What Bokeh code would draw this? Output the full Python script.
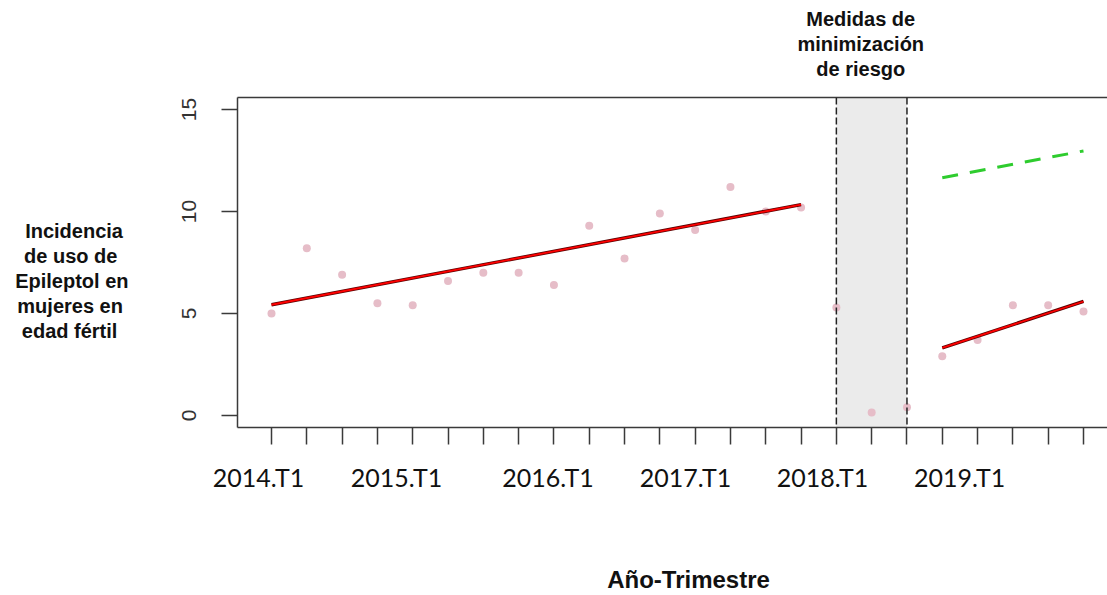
from bokeh.plotting import figure
from bokeh.models import (Range1d, FixedTicker, LinearAxis, BoxAnnotation, Span)
from bokeh.embed import file_html
from bokeh.resources import INLINE

# ---------------- data ----------------
quarters = ["2014.T1", "2014.T2", "2014.T3", "2014.T4",
            "2015.T1", "2015.T2", "2015.T3", "2015.T4",
            "2016.T1", "2016.T2", "2016.T3", "2016.T4",
            "2017.T1", "2017.T2", "2017.T3", "2017.T4",
            "2018.T1", "2018.T2", "2018.T3", "2018.T4",
            "2019.T1", "2019.T2", "2019.T3", "2019.T4"]
incidence = [5.0, 8.2, 6.9, 5.5, 5.4, 6.6, 7.0, 7.0,
             6.4, 9.3, 7.7, 9.9, 9.1, 11.2, 10.0, 10.2,
             5.3, 0.15, 0.4, 2.9, 3.7, 5.4, 5.4, 5.1]
# fitted segments (start / end quarter index and value)
pre_fit_x = [0, 15]
pre_fit_y = [5.43, 10.34]
post_fit_x = [19, 23]
post_fit_y = [3.32, 5.59]
counterfactual_x = [19, 23]
counterfactual_y = [11.66, 12.97]
intervention_start = "2018.T1"
intervention_end = "2018.T3"
labelled_quarters = ["2014.T1", "2015.T1", "2016.T1", "2017.T1", "2018.T1", "2019.T1"]
y_ticks = [0, 5, 10, 15]
title_lines = ["Medidas de", "minimización", "de riesgo"]
ylab_lines = ["Incidencia", "de uso de", "Epileptol en", "mujeres en", "edad fértil"]
xlab_text = "Año-Trimestre"

idx = list(range(len(quarters)))

p = figure(width=1107, height=595, output_backend="svg", toolbar_location=None,
           x_range=Range1d(-0.963, 23.68), y_range=Range1d(-0.588, 15.59),
           x_axis_location=None, y_axis_location=None,
           min_border_left=237, min_border_right=0, min_border_top=97,
           min_border_bottom=168)
p.outline_line_color = None
p.xgrid.visible = False
p.ygrid.visible = False
p.background_fill_color = "white"
p.border_fill_color = "white"

axis_col = "#3a3a3a"
text_col = "#111111"


def text_axis(ticks, labels, standoff, font, size, style="normal", color=text_col):
    ax = LinearAxis(ticker=FixedTicker(ticks=ticks),
                    major_label_overrides={t: l for t, l in zip(ticks, labels)})
    ax.axis_line_color = None
    ax.major_tick_line_color = None
    ax.major_tick_out = 0
    ax.major_tick_in = 0
    ax.minor_tick_line_color = None
    ax.major_label_standoff = standoff
    ax.major_label_text_font = font
    ax.major_label_text_font_size = size
    ax.major_label_text_font_style = style
    ax.major_label_text_color = color
    return ax


# ---- left: y axis + multi-line label ----
yax = LinearAxis(ticker=FixedTicker(ticks=y_ticks))
yax.axis_line_color = axis_col
yax.axis_line_width = 1.5
yax.major_tick_line_color = axis_col
yax.major_tick_line_width = 1.5
yax.major_tick_out = 16
yax.major_tick_in = 0
yax.minor_tick_line_color = None
yax.major_label_orientation = "vertical"
yax.major_label_text_font = "Liberation Sans"
yax.major_label_text_font_size = "21px"
yax.major_label_text_color = "#333333"
yax.major_label_standoff = 25
p.add_layout(yax, "left")

nb = "\u00a0"
ylab_pad = [1, 2, 0, 1, 2]
ylab_pos = [9.069, 7.843, 6.618, 5.392, 4.167]
p.add_layout(text_axis(ylab_pos, [t + nb * k for t, k in zip(ylab_lines, ylab_pad)], 51,
                       "Liberation Sans", "20px", "bold"), "left")

# ---- bottom: quarter ticks, labels, title ----
xax = LinearAxis(ticker=FixedTicker(ticks=idx))
xax.axis_line_color = axis_col
xax.axis_line_width = 1.5
xax.major_tick_line_color = axis_col
xax.major_tick_line_width = 1.5
xax.major_tick_out = 17
xax.major_tick_in = 0
xax.minor_tick_line_color = None
xax.major_label_text_font_size = "0px"
xax.major_label_text_alpha = 0
xax.major_label_standoff = 0
p.add_layout(xax, "below")

tick_nudge = [-0.368, -0.459, -0.167, -0.272, -0.391, -0.51]
qpos = [quarters.index(l) + d for l, d in zip(labelled_quarters, tick_nudge)]
p.add_layout(text_axis(qpos, labelled_quarters, 17, "Lato", "25px"), "below")
p.add_layout(text_axis([11.813], [xlab_text], 71, "Liberation Sans", "24px", "bold"), "below")

# ---- top: frame line + intervention title ----
tax = LinearAxis(ticker=FixedTicker(ticks=[]))
tax.axis_line_color = axis_col
tax.axis_line_width = 1.5
tax.major_tick_line_color = None
tax.minor_tick_line_color = None
tax.major_label_text_font_size = "0px"
tax.major_label_standoff = 0
p.add_layout(tax, "above")

title_x = 16.69
title_standoff = [18, 0, 0]
for t, s in zip(reversed(title_lines), title_standoff):
    p.add_layout(text_axis([title_x], [t], s, "Liberation Sans", "20px", "bold"), "above")

# ---- plot content ----
i0 = quarters.index(intervention_start)
i1 = quarters.index(intervention_end)
p.add_layout(BoxAnnotation(left=i0, right=i1, fill_color="#EBEBEB", fill_alpha=1.0,
                           line_color=None, level="underlay"))
for loc in (i0, i1):
    p.add_layout(Span(location=loc, dimension="height", line_color="#222222",
                      line_width=1.5, line_dash="7 3"))

p.scatter(idx, incidence, size=8, color="#E6BDC8", line_color=None)

for xs, ys in ((pre_fit_x, pre_fit_y), (post_fit_x, post_fit_y)):
    p.line(xs, ys, line_color="#5a0000", line_width=3.4)
    p.line(xs, ys, line_color="#FF0000", line_width=1.8)

p.line(counterfactual_x, counterfactual_y, line_color="#2ECC2E", line_width=3,
       line_dash="16 12")

open("out.html", "w").write(file_html(p, INLINE))
